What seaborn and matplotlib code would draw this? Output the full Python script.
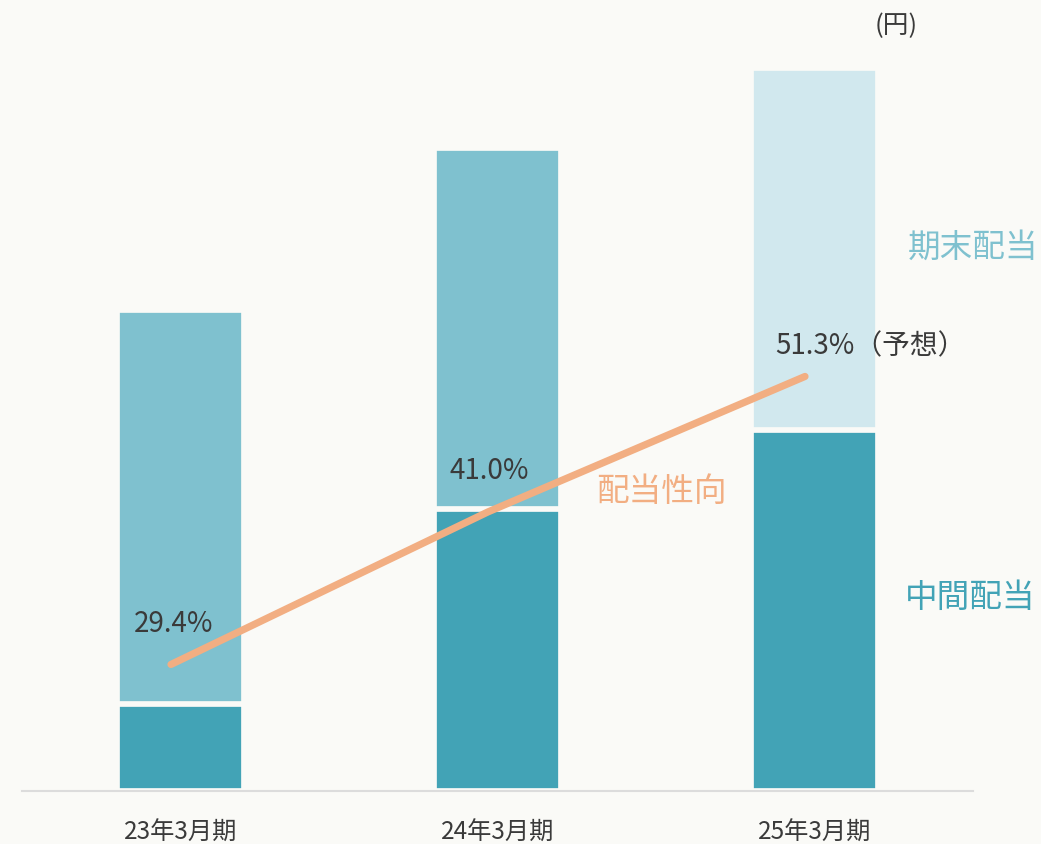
import numpy as np
import pandas as pd
import matplotlib
matplotlib.use("Agg")
import matplotlib.pyplot as plt
import seaborn as sns

# ---- data ----
categories = ["23年3月期", "24年3月期", "25年3月期"]
interim_div = [12, 39, 50]          # 中間配当 (円)
yearend_div = [54.5, 50, 50]        # 期末配当 (円)
payout_ratio = [29.4, 41.0, 51.3]   # 配当性向 (%)
payout_labels = ["29.4%", "41.0%", "51.3%（予想）"]

# ---- style ----
BG = "#FAFAF7"
C_INTERIM = "#42A3B6"
C_FINAL = "#7FC1CF"
C_FINAL_FC = "#D1E8EE"
C_LINE = "#F2AE82"
C_TEXT = "#3A3A3A"

sns.set_theme(style="white")
plt.rcParams["font.family"] = ["Noto Sans CJK JP", "DejaVu Sans"]

W, H = 1041, 845
ax_bottom_px = 791.9
ax_top_px = 30
fig = plt.figure(figsize=(W / 100, H / 100), dpi=100, facecolor=BG)
ax = fig.add_axes([22 / W, 1 - ax_bottom_px / H, 951 / W,
                   (ax_bottom_px - ax_top_px) / H])
ax.set_facecolor(BG)

totals = [a + b for a, b in zip(interim_div, yearend_div)]
df = pd.DataFrame({"cat": categories, "total": totals, "interim": interim_div})

# total bars (year-end colour) then interim bars on top
sns.barplot(data=df, x="cat", y="total", hue="cat",
            palette=[C_FINAL, C_FINAL, C_FINAL_FC], legend=False,
            saturation=1, width=0.40, edgecolor=BG, linewidth=4.1,
            ax=ax, zorder=2)
sns.barplot(data=df, x="cat", y="interim", color=C_INTERIM, saturation=1,
            width=0.40, edgecolor=BG, linewidth=4.1, ax=ax, zorder=3)

ax.set_xlim(-0.5, 2.5)
ax.set_ylim(0, (ax_bottom_px - ax_top_px) / 7.225)
ax.set_xlabel("")
ax.set_ylabel("")
ax.set_yticks([])
for s in ["top", "left", "right"]:
    ax.spines[s].set_visible(False)
ax.spines["bottom"].set_color("#DCDCDC")
ax.spines["bottom"].set_linewidth(1.5)
ax.spines["bottom"].set_zorder(5)
ax.tick_params(axis="x", length=0, pad=20, labelsize=17.5, labelcolor=C_TEXT)

# payout ratio line on twin axis
ax2 = ax.twinx()
xpos = np.arange(len(categories)) - 0.03
sns.lineplot(x=xpos, y=payout_ratio, ax=ax2, color=C_LINE, linewidth=5.2,
             solid_capstyle="round", zorder=4)
vmin = 19.784
ax2.set_ylim(vmin, vmin + (ax_bottom_px - ax_top_px) / 13.15)
ax2.set_xlim(-0.5, 2.5)
ax2.set_yticks([])
ax2.set_ylabel("")
for s in ["top", "left", "right", "bottom"]:
    ax2.spines[s].set_visible(False)

offsets = [(-26.6, 29.9), (-27.4, 30.2), (-21.6, 22.3)]
for x, v, lab, off in zip(xpos, payout_ratio, payout_labels, offsets):
    ax2.annotate(lab, xy=(x, v), xytext=off, textcoords="offset points",
                 ha="left", va="center", fontsize=20, color=C_TEXT, zorder=6)

# series labels
fig.text(908 / W, 1 - 248 / H, "期末配当", color=C_FINAL,
         fontsize=23.5, ha="left", va="center")
fig.text(905 / W, 1 - 598 / H, "中間配当", color=C_INTERIM,
         fontsize=23.5, ha="left", va="center")
fig.text(596 / W, 1 - 492 / H, "配当性向", color=C_LINE,
         fontsize=23.5, ha="left", va="center")
fig.text(875 / W, 1 - 26 / H, "(円)", color=C_TEXT,
         fontsize=18.5, ha="left", va="center")

fig.savefig("out.png", dpi=100, facecolor=BG)
